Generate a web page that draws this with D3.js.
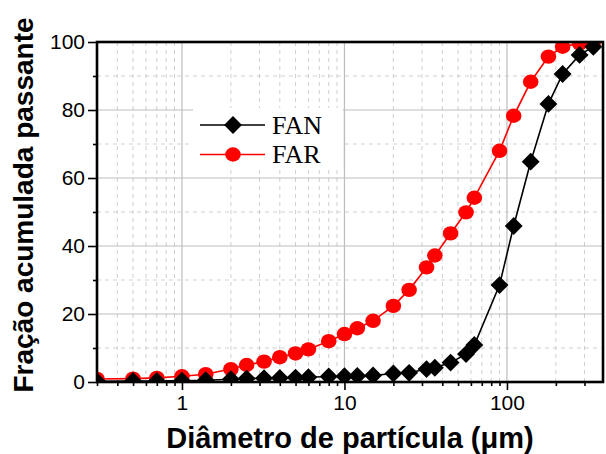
<!DOCTYPE html>
<html>
<head>
<meta charset="utf-8">
<script src="https://cdn.jsdelivr.net/npm/d3@7"></script>
<style>
  html, body { margin: 0; padding: 0; background: #fff; }
  svg { display: block; }
</style>
</head>
<body>
<svg id="chart" width="606" height="454"></svg>
<script>
// ---- data ----
const sizesFAN = [0.3, 0.5, 0.7, 1, 1.4, 2, 2.5, 3.2, 4, 5, 6, 8, 10, 12, 15, 20, 25, 32, 36, 45, 56, 63, 90, 110, 140, 180, 220, 280, 340];
const valuesFAN = [0.2, 0.3, 0.3, 0.4, 0.5, 0.8, 1.0, 1.1, 1.2, 1.3, 1.4, 1.6, 1.7, 1.8, 1.9, 2.5, 2.7, 3.8, 4.2, 5.7, 8.2, 10.9, 28.5, 45.9, 64.8, 81.8, 90.6, 96.2, 98.6];
const sizesFAR = [0.3, 0.5, 0.7, 1, 1.4, 2, 2.5, 3.2, 4, 5, 6, 8, 10, 12, 15, 20, 25, 32, 36, 45, 56, 63, 90, 110, 140, 180, 220, 280, 340];
const valuesFAR = [0.9, 1.0, 1.2, 1.7, 2.3, 3.8, 5.0, 6.0, 7.3, 8.4, 9.6, 12.0, 14.1, 15.8, 18.0, 22.4, 27.1, 33.7, 37.2, 43.7, 49.9, 54.2, 68.0, 78.3, 88.3, 95.7, 98.6, 99.6, 100];
const seriesNames = ["FAN", "FAR"];
const xTickValues = [1, 10, 100];
const xTickLabels = ["1", "10", "100"];
const yTickValues = [0, 20, 40, 60, 80, 100];
const xTitle = "Diâmetro de partícula (μm)";
const yTitle = "Fração acumulada passante";

// ---- layout ----
const W = 606, H = 454;
const plot = { left: 97, right: 603, top: 42, bottom: 382 };
const svg = d3.select("#chart");

const x = d3.scaleLog().domain([0.3, 390]).range([plot.left, plot.right]);
const y = d3.scaleLinear().domain([0, 100]).range([plot.bottom, plot.top]);

// minor x values (2..9 per decade)
const xMinor = [];
[0.1, 1, 10, 100].forEach(dec => { for (let k = 2; k <= 9; k++) { const v = dec * k; if (v >= 0.3 && v <= 390) xMinor.push(v); } });
const yMinor = [10, 30, 50, 70, 90];
const yMajorGrid = [20, 40, 60, 80];

const gridG = svg.append("g");
// minor dashed grid
gridG.selectAll(".vminor").data(xMinor).join("line")
  .attr("x1", d => x(d)).attr("x2", d => x(d))
  .attr("y1", plot.top).attr("y2", plot.bottom)
  .attr("stroke", "#cfcfcf").attr("stroke-width", 1).attr("stroke-dasharray", "4,4");
gridG.selectAll(".hminor").data(yMinor).join("line")
  .attr("x1", plot.left).attr("x2", plot.right)
  .attr("y1", d => y(d)).attr("y2", d => y(d))
  .attr("stroke", "#cfcfcf").attr("stroke-width", 1).attr("stroke-dasharray", "4,4");
// major solid grid
gridG.selectAll(".vmajor").data(xTickValues).join("line")
  .attr("x1", d => x(d)).attr("x2", d => x(d))
  .attr("y1", plot.top).attr("y2", plot.bottom)
  .attr("stroke", "#bdbdbd").attr("stroke-width", 1.2);
gridG.selectAll(".hmajor").data(yMajorGrid).join("line")
  .attr("x1", plot.left).attr("x2", plot.right)
  .attr("y1", d => y(d)).attr("y2", d => y(d))
  .attr("stroke", "#bdbdbd").attr("stroke-width", 1.2);

// legend background (covers grid)
const legend = { x: 193, y: 108, w: 150, h: 62 };
svg.append("rect").attr("x", legend.x).attr("y", legend.y).attr("width", legend.w).attr("height", legend.h).attr("fill", "#fff");
svg.append("line").attr("x1", x(10)).attr("x2", x(10)).attr("y1", legend.y).attr("y2", legend.y + legend.h)
  .attr("stroke", "#bdbdbd").attr("stroke-width", 1.2);

// clip
svg.append("clipPath").attr("id", "clip").append("rect")
  .attr("x", plot.left).attr("y", plot.top).attr("width", plot.right - plot.left).attr("height", plot.bottom - plot.top);

const dataFAN = sizesFAN.map((s, i) => ({ s, v: valuesFAN[i] }));
const dataFAR = sizesFAR.map((s, i) => ({ s, v: valuesFAR[i] }));
const line = d3.line().x(d => x(d.s)).y(d => y(d.v));

const plotG = svg.append("g").attr("clip-path", "url(#clip)");
plotG.append("path").datum(dataFAR).attr("d", line).attr("fill", "none").attr("stroke", "#ff0000").attr("stroke-width", 1.6);
plotG.selectAll(".far").data(dataFAR).join("ellipse")
  .attr("cx", d => x(d.s)).attr("cy", d => y(d.v)).attr("rx", 7.8).attr("ry", 7.2).attr("fill", "#ff0000");
plotG.append("path").datum(dataFAN).attr("d", line).attr("fill", "none").attr("stroke", "#000").attr("stroke-width", 1.6);
const diamond = d3.symbol().type(d3.symbolSquare).size(160);
plotG.selectAll(".fan").data(dataFAN).join("path")
  .attr("d", diamond)
  .attr("transform", d => `translate(${x(d.s)},${y(d.v)}) rotate(45)`)
  .attr("fill", "#000");

// frame
svg.append("rect").attr("x", plot.left).attr("y", plot.top)
  .attr("width", plot.right - plot.left).attr("height", plot.bottom - plot.top)
  .attr("fill", "none").attr("stroke", "#000").attr("stroke-width", 2.6);

// axes
const xAxisMajor = d3.axisBottom(x).tickValues(xTickValues).tickFormat((d, i) => xTickLabels[i]).tickSize(8).tickPadding(5);
const xAxisG = svg.append("g").attr("transform", `translate(0,${plot.bottom})`).call(xAxisMajor);
const xAxisMinor = d3.axisBottom(x).tickValues(xMinor).tickFormat("").tickSize(4);
const xAxisMinorG = svg.append("g").attr("transform", `translate(0,${plot.bottom})`).call(xAxisMinor);
const yAxisMajor = d3.axisLeft(y).tickValues(yTickValues).tickSize(9).tickPadding(3);
const yAxisG = svg.append("g").attr("transform", `translate(${plot.left},0)`).call(yAxisMajor);
const yAxisMinor = d3.axisLeft(y).tickValues(yMinor).tickFormat("").tickSize(4);
const yAxisMinorG = svg.append("g").attr("transform", `translate(${plot.left},0)`).call(yAxisMinor);
[xAxisG, xAxisMinorG, yAxisG, yAxisMinorG].forEach(g => {
  g.select(".domain").remove();
  g.selectAll(".tick line").attr("stroke", "#000").attr("stroke-width", 1.6);
  g.selectAll("text").attr("fill", "#000").style("font-family", "'Liberation Sans', Arial, sans-serif").style("font-size", "21px");
});

// titles
svg.append("text").attr("x", 350).attr("y", 448).attr("text-anchor", "middle")
  .style("font-family", "'Liberation Sans', Arial, sans-serif").style("font-weight", "bold").style("font-size", "29px")
  .text(xTitle);
svg.append("text").attr("transform", `translate(33,205) rotate(-90)`).attr("text-anchor", "middle")
  .style("font-family", "'Liberation Sans', Arial, sans-serif").style("font-weight", "bold").style("font-size", "28px")
  .text(yTitle);

// legend
const legItems = [
  { name: seriesNames[0], color: "#000", yy: 125, marker: "diamond" },
  { name: seriesNames[1], color: "#ff0000", yy: 154.5, marker: "circle" }
];
legItems.forEach(it => {
  svg.append("line").attr("x1", 200).attr("x2", 265).attr("y1", it.yy).attr("y2", it.yy)
    .attr("stroke", it.color).attr("stroke-width", 1.6);
  if (it.marker === "diamond") {
    svg.append("path").attr("d", diamond).attr("transform", `translate(233,${it.yy}) rotate(45)`).attr("fill", it.color);
  } else {
    svg.append("ellipse").attr("cx", 233).attr("cy", it.yy).attr("rx", 7.8).attr("ry", 7.2).attr("fill", it.color);
  }
  svg.append("text").attr("x", 272).attr("y", it.yy + 8.5)
    .style("font-family", "'Liberation Serif', 'Times New Roman', serif").style("font-size", "26px")
    .attr("fill", "#000").text(it.name);
});
</script>
</body>
</html>
